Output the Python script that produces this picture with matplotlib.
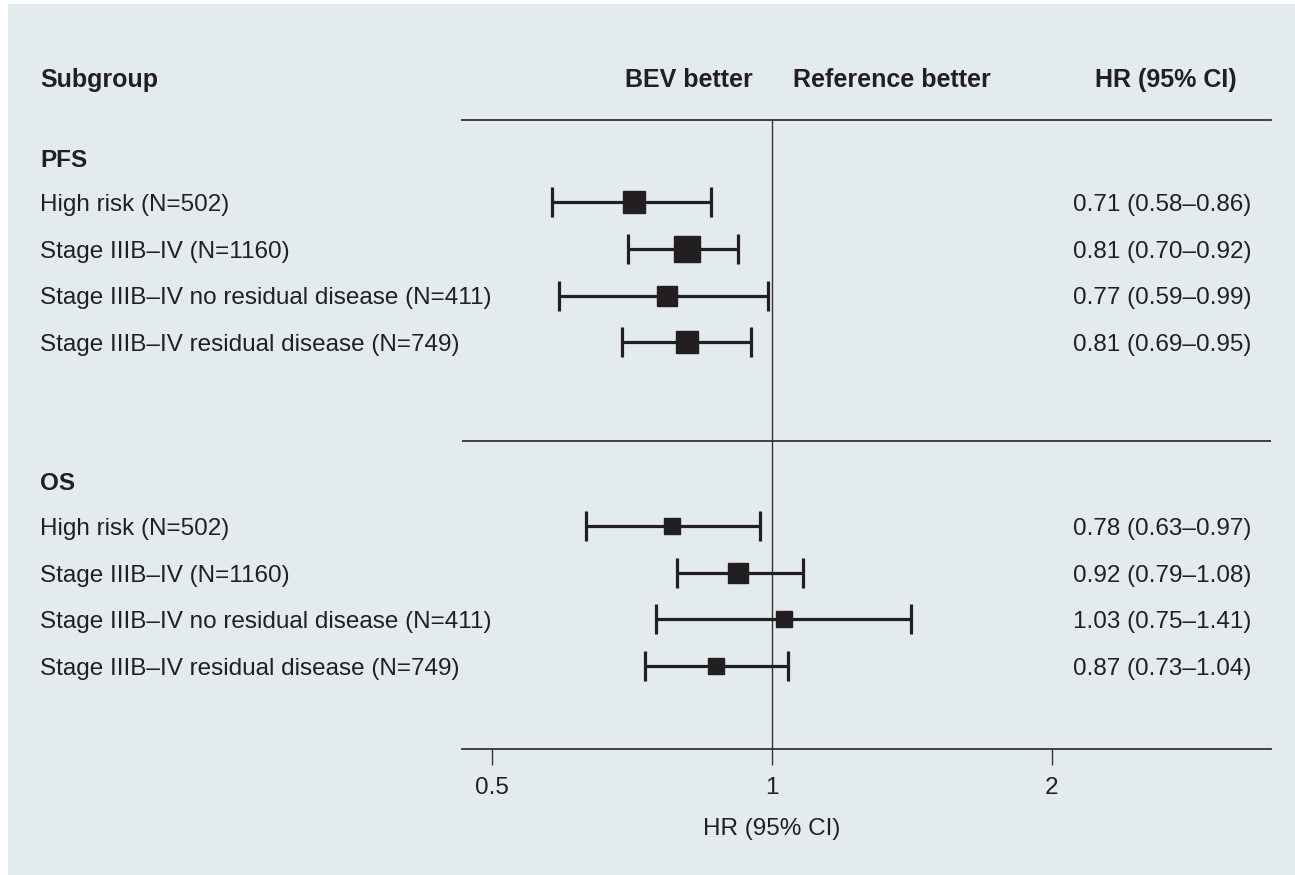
import numpy as np
import matplotlib
matplotlib.use("Agg")
from matplotlib import pyplot as plt
from matplotlib.patches import Rectangle

plt.rcParams['font.family'] = ['Liberation Sans', 'DejaVu Sans']

# data
labels = ["High risk (N=502)",
          "Stage IIIB\u2013IV (N=1160)",
          "Stage IIIB\u2013IV no residual disease (N=411)",
          "Stage IIIB\u2013IV residual disease (N=749)"]
pfs_hr = [0.71, 0.81, 0.77, 0.81]
pfs_lo = [0.58, 0.70, 0.59, 0.69]
pfs_hi = [0.86, 0.92, 0.99, 0.95]
os_hr = [0.78, 0.92, 1.03, 0.87]
os_lo = [0.63, 0.79, 0.75, 0.73]
os_hi = [0.97, 1.08, 1.41, 1.04]
ticks = [0.5, 1, 2]
tick_labels = ["0.5", "1", "2"]

# box sizes (points) as drawn in the figure
pfs_box = [16.5, 18.5, 15.0, 16.5]
os_box = [12.0, 14.5, 11.5, 11.5]

ink = "#231f20"
bg = "#e3ebee"
fs = 17.5

fig = plt.figure(figsize=(12.95, 8.75), dpi=100)
fig.patches.append(Rectangle((8 / 1295, 0), 1, 871 / 875, transform=fig.transFigure,
                             facecolor=bg, edgecolor="none", zorder=-10))

ax = fig.add_axes([462 / 1295, 126 / 875, 809 / 1295, 629 / 875])
ax.set_facecolor("none")
ax.set_xscale("log")
ax.set_xlim(0.464, 3.44)
ax.set_ylim(13.5, 0)

for s in ["left", "right"]:
    ax.spines[s].set_visible(False)
ax.spines["top"].set_color("#333333")
ax.spines["bottom"].set_color("#333333")
ax.spines["top"].set_linewidth(1.3)
ax.spines["bottom"].set_linewidth(1.3)

ax.set_xticks(ticks)
ax.set_xticklabels(tick_labels)
ax.minorticks_off()
ax.set_xticks([], minor=True)
ax.set_yticks([])
ax.tick_params(axis="x", length=11.5, width=1.0, color="#333333",
               labelsize=fs, labelcolor=ink, pad=9)
ax.set_xlabel("HR (95% CI)", fontsize=fs, color=ink)
ax.xaxis.set_label_coords((772 - 462) / 809, -0.109)

ax.axvline(1, color="#333333", lw=1.0, zorder=1)
ax.axhline(6.89, color="#333333", lw=1.3)

tr = ax.get_yaxis_transform()
left_x = (40 - 462) / 809
hr_x = (1073 - 462) / 809
dt = 0.06  # small text nudge to sit level with the boxes


def block(y0, title, hr, lo, hi, box):
    ax.text(left_x, y0 + dt, title, transform=tr, fontsize=fs, fontweight="bold",
            color=ink, va="center", ha="left", clip_on=False)
    for i in range(len(hr)):
        y = y0 + 0.97 + i * 1.0
        ax.errorbar(hr[i], y, xerr=[[hr[i] - lo[i]], [hi[i] - hr[i]]],
                    fmt="s", color=ink, ms=box[i], mec=ink, mfc=ink,
                    elinewidth=2.3, capsize=10.5, capthick=2.3, zorder=3)
        ax.text(left_x, y + dt, labels[i], transform=tr, fontsize=fs,
                color=ink, va="center", ha="left", clip_on=False)
        ax.text(hr_x, y + dt, "%.2f (%.2f\u2013%.2f)" % (hr[i], lo[i], hi[i]),
                transform=tr, fontsize=fs, color=ink, va="center",
                ha="left", clip_on=False)


block(0.8, "PFS", pfs_hr, pfs_lo, pfs_hi, pfs_box)
block(7.75, "OS", os_hr, os_lo, os_hi, os_box)

# header row
hy = -0.86
hdr = dict(transform=tr, fontsize=18, fontweight="bold", color=ink,
           va="center", clip_on=False)
ax.text(left_x, hy, "Subgroup", ha="left", **hdr)
ax.text((753 - 462) / 809, hy, "BEV better", ha="right", **hdr)
ax.text((793 - 462) / 809, hy, "Reference better", ha="left", **hdr)
ax.text((1237 - 462) / 809, hy, "HR (95% CI)", ha="right", **hdr)

fig.savefig("out.png", dpi=100, facecolor="white")
